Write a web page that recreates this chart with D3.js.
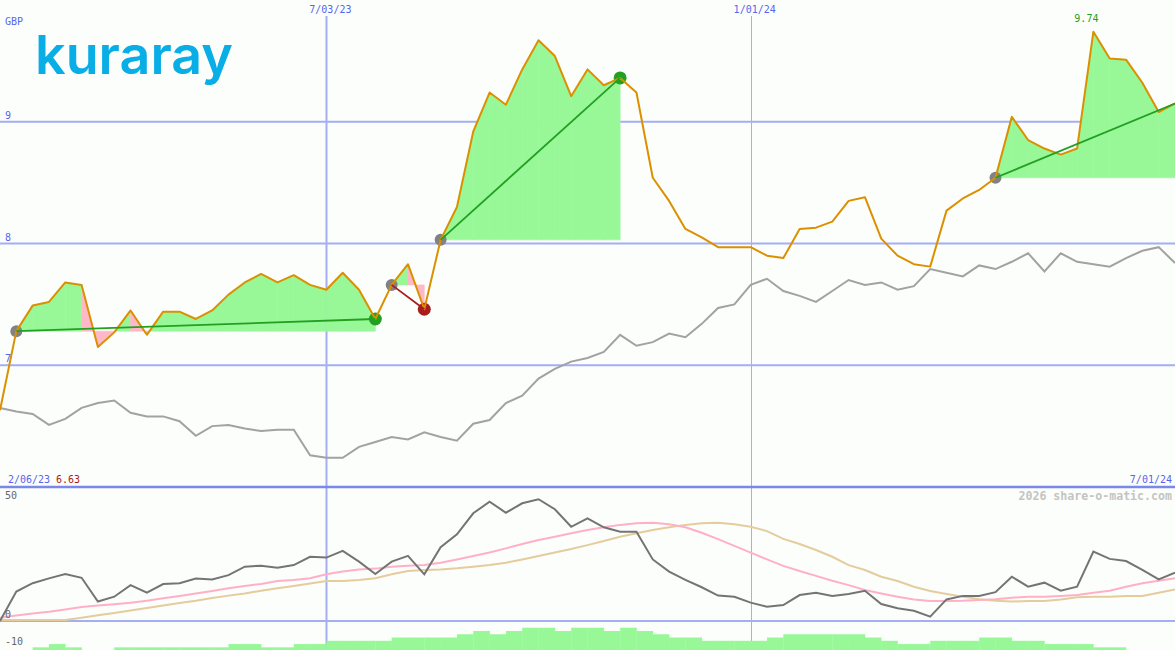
<!DOCTYPE html>
<html><head><meta charset="utf-8">
<script src="https://cdn.jsdelivr.net/npm/d3@7"></script>
<style>html,body{margin:0;padding:0;background:#fcfefc;overflow:hidden}</style>
</head><body><svg id="c" width="1175" height="650"></svg>
<script>
// ---------- data ----------
const price = [6.63,7.28,7.49,7.52,7.68,7.66,7.15,7.27,7.45,7.25,7.44,7.44,7.38,7.45,7.58,7.68,7.75,7.68,7.74,7.66,
  7.62,7.76,7.62,7.38,7.66,7.83,7.46,8.03,8.30,8.92,9.24,9.14,9.43,9.67,9.54,9.21,9.43,9.30,9.36,9.24,
  8.54,8.35,8.12,8.05,7.97,7.97,7.97,7.90,7.88,8.12,8.13,8.18,8.35,8.38,8.04,7.90,7.83,7.81,8.27,8.37,
  8.44,8.54,9.04,8.85,8.78,8.73,8.78,9.74,9.52,9.51,9.32,9.08,9.15];
const relative = [6.65,6.62,6.60,6.51,6.56,6.65,6.69,6.71,6.61,6.58,6.58,6.54,6.42,6.50,6.51,6.48,6.46,6.47,6.47,6.26,
  6.24,6.24,6.33,6.37,6.41,6.39,6.45,6.41,6.38,6.52,6.55,6.69,6.75,6.89,6.97,7.03,7.06,7.11,7.25,7.16,
  7.19,7.26,7.23,7.34,7.47,7.50,7.66,7.71,7.61,7.57,7.52,7.61,7.70,7.66,7.68,7.62,7.65,7.79,7.76,7.73,
  7.82,7.79,7.85,7.92,7.77,7.92,7.85,7.83,7.81,7.88,7.94,7.97,7.84];
const oscillator = [0,10.9,14.0,15.8,17.4,16.0,7.2,9.0,13.3,10.5,13.7,14.0,15.7,15.4,17.0,20.1,20.5,19.7,20.7,23.8,
  23.5,26.0,22.0,17.4,22.0,24.1,17.3,27.3,32.1,39.9,44.2,40.1,43.6,45.1,41.4,34.9,38.0,34.7,33.1,33.1,
  22.8,18.3,15.2,12.5,9.4,9.0,6.8,5.3,5.9,9.6,10.5,9.3,10.0,11.2,6.3,4.7,3.8,1.6,8.0,9.3,
  9.3,10.7,16.4,12.7,14.2,11.2,12.7,25.7,23.0,22.2,18.9,15.4,17.9];
const maFast = [1.2,2.0,2.8,3.4,4.3,5.2,5.7,6.2,6.8,7.5,8.4,9.3,10.2,11.1,12.1,13.0,13.7,14.8,15.2,15.8,
  17.3,18.3,19.1,19.4,20.1,20.5,20.7,21.6,22.8,24.1,25.4,26.9,28.5,30.0,31.2,32.5,33.7,34.7,35.6,36.2,
  36.4,35.8,34.7,32.7,30.3,27.8,25.3,22.8,20.4,18.5,16.7,14.9,13.3,11.5,10.2,9.0,8.0,7.4,7.4,7.5,
  7.8,8.1,8.6,9.0,9.0,9.3,9.6,10.5,11.2,12.7,14.0,14.9,15.8];
const maSlow = [0.4,0.4,0.4,0.4,0.4,1.2,2.1,3.0,3.9,4.8,5.7,6.7,7.5,8.5,9.4,10.2,11.2,12.1,13.0,13.9,
  14.8,14.8,15.2,15.8,17.3,18.5,18.9,19.1,19.5,20.1,20.7,21.6,22.8,24.1,25.4,26.7,28.1,29.6,31.2,32.5,
  33.7,34.7,35.6,36.2,36.4,35.8,34.9,33.3,30.4,28.5,26.3,23.8,20.7,18.9,16.4,14.8,12.7,11.1,10.0,9.0,
  8.1,7.5,7.2,7.4,7.4,8.0,8.8,9.0,9.0,9.3,9.3,10.5,11.7];
const volumeBars = [0,0,1,2,1,0,0,1,1,1,1,1,1,1,2,2,1,1,2,2,
  3,3,3,3,4,4,4,4,5,6,5,6,7,7,6,7,7,6,7,6,
  5,4,4,3,3,3,3,4,5,5,5,5,5,4,3,2,2,3,3,3,
  4,4,3,3,2,2,2,1,1,0,0,0];
const priceTicks = [9, 8, 7];
const oscTicks = [50, 0, -10];
const dateTickIdx = [20, 46];
const dateTickLabels = ["7/03/23", "1/01/24"];
const firstDate = "2/06/23";
const lastDate = "7/01/24";
const currency = "GBP";
const tradeEntry = [1, 24, 27, 61];
const tradeExit = [23, 26, 38, 72];
const tradeOpen = [false, false, false, true];

// ---------- setup ----------
const W = 1175, H = 650;
const svg = d3.select("#c");
const x = d3.scaleLinear().domain([0, price.length - 1]).range([0, W]);
const y = d3.scaleLinear().domain([6, 10]).range([487, 0]);
const yo = d3.scaleLinear().domain([-10, 50]).range([648, 486]);
const yb = d3.scaleLinear().domain([0, 7]).range([650.6, 627.7]);

const BLUE_TXT = "#5566ee", GRID = "#a4aef2", GREEN = "#22a022", RED = "#a81c1c";
const MONO = "'DejaVu Sans Mono', 'Liberation Mono', monospace";

svg.append("rect").attr("width", W).attr("height", H).attr("fill", "#fcfefc");

// grid
const g = svg.append("g");
g.selectAll("line.h").data(priceTicks).join("line")
  .attr("x1", 0).attr("x2", W).attr("y1", d => y(d)).attr("y2", d => y(d))
  .attr("stroke", GRID).attr("stroke-width", 2);
g.selectAll("line.v").data(dateTickIdx).join("line")
  .attr("x1", d => Math.round(x(d)) + 0.5).attr("x2", d => Math.round(x(d)) + 0.5)
  .attr("y1", 16).attr("y2", H)
  .attr("stroke", GRID).attr("stroke-width", (d, i) => i === 0 ? 2 : 1);
g.append("line").attr("x1", 0).attr("x2", W).attr("y1", yo(0)).attr("y2", yo(0))
  .attr("stroke", GRID).attr("stroke-width", 2);
g.append("line").attr("x1", 0).attr("x2", W).attr("y1", y(6)).attr("y2", y(6))
  .attr("stroke", "#7a88ea").attr("stroke-width", 2.5);

// trade fills
const fills = svg.append("g");
tradeEntry.forEach((e, t) => {
  const ex = tradeExit[t], E = price[e];
  for (let k = e; k < ex; k++) {
    const pts = [[x(k), y(E)], [x(k), y(price[k])], [x(k + 1), y(price[k + 1])], [x(k + 1), y(E)]];
    const col = price[k + 1] >= E ? "#98f898" : "#ffb8c8";
    fills.append("path").attr("d", "M" + pts.join("L") + "Z")
      .attr("fill", col).attr("stroke", col).attr("stroke-width", 0.6);
  }
});

// relative line
svg.append("path").datum(relative)
  .attr("d", d3.line().x((d, i) => x(i)).y(d => y(d)))
  .attr("fill", "none").attr("stroke", "#a2a2a2").attr("stroke-width", 2);

// lower panel
const lineO = d3.line().x((d, i) => x(i)).y(d => yo(d));
svg.append("path").datum(maSlow).attr("d", lineO).attr("fill", "none").attr("stroke", "#e4cc9c").attr("stroke-width", 2);
svg.append("path").datum(maFast).attr("d", lineO).attr("fill", "none").attr("stroke", "#ffb0c6").attr("stroke-width", 2);
svg.append("path").datum(oscillator).attr("d", lineO).attr("fill", "none").attr("stroke", "#747474").attr("stroke-width", 2);

svg.append("g").selectAll("rect").data(volumeBars).join("rect")
  .attr("x", (d, i) => x(i)).attr("width", (d, i) => x(i + 1) - x(i) + 0.3)
  .attr("y", d => yb(d)).attr("height", d => d > 0 ? H - yb(d) : 0)
  .attr("fill", "#98f898");

// dots
const dots = svg.append("g");
tradeEntry.forEach((e, t) => {
  dots.append("circle").attr("cx", x(e)).attr("cy", y(price[e])).attr("r", 6).attr("fill", "#828282");
  if (!tradeOpen[t]) {
    const ex = tradeExit[t];
    dots.append("circle").attr("cx", x(ex)).attr("cy", y(price[ex])).attr("r", 6.5)
      .attr("fill", price[ex] >= price[e] ? GREEN : RED);
  }
});

// price line
svg.append("path").datum(price)
  .attr("d", d3.line().x((d, i) => x(i)).y(d => y(d)))
  .attr("fill", "none").attr("stroke", "#dc9000").attr("stroke-width", 2).attr("stroke-linejoin", "round");

// trend lines
tradeEntry.forEach((e, t) => {
  const ex = tradeExit[t];
  svg.append("line").attr("x1", x(e)).attr("y1", y(price[e])).attr("x2", x(ex)).attr("y2", y(price[ex]))
    .attr("stroke", price[ex] >= price[e] ? GREEN : RED).attr("stroke-width", 1.8);
});

// texts
const txt = (s, xx, yy, col, anchor, size, weight) => svg.append("text").text(s)
  .attr("x", xx).attr("y", yy).attr("fill", col).attr("font-family", MONO)
  .attr("font-size", size || 10).attr("text-anchor", anchor || "start")
  .attr("font-weight", weight || "normal");

txt(currency, 5, 25, BLUE_TXT);
priceTicks.forEach(t => txt(String(t), 5, y(t) - 3, BLUE_TXT));
dateTickIdx.forEach((d, i) => txt(dateTickLabels[i], x(d) + 4, 13, BLUE_TXT, "middle"));
txt(firstDate, 8, 483, BLUE_TXT);
const minV = d3.min(price);
txt(minV.toFixed(2), 56, 483, RED);
txt(lastDate, 1172, 483, BLUE_TXT, "end");
oscTicks.forEach(t => txt(String(t), 5, t === 50 ? yo(t) + 13 : yo(t) - 3, "#666666"));
txt("2026 share-o-matic.com", 1172, 500, "#c4c4c4", "end", 11.6, "bold");

const maxV = d3.max(price), maxI = price.indexOf(maxV);
txt(maxV.toFixed(2), x(maxI) - 7, y(maxV) - 10, GREEN, "middle");

// logo
svg.append("text").text("kuraray").attr("x", 35).attr("y", 74)
  .attr("font-family", "Inter, 'Open Sans', sans-serif").attr("font-weight", 600)
  .attr("font-size", 53).attr("fill", "#0aaee6")
  .attr("textLength", 198).attr("lengthAdjust", "spacingAndGlyphs");
</script></body></html>
